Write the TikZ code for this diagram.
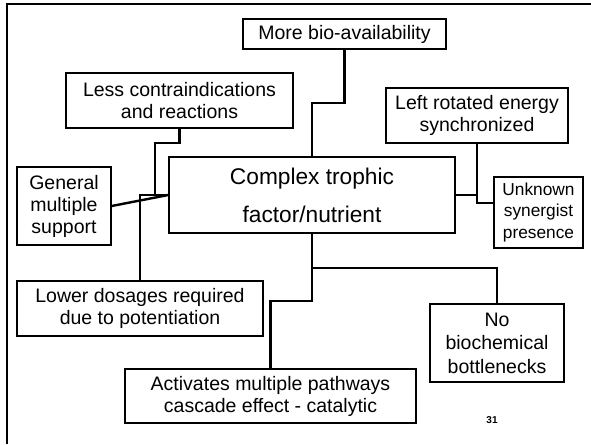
\documentclass[tikz,border=0pt]{standalone}
\usepackage{fontspec}
\setmainfont{Liberation Sans}
\usetikzlibrary{positioning}

\begin{document}
\begin{tikzpicture}[x=1pt, y=-1pt,
        box/.style={draw, line width=1.4pt, align=center, inner sep=0pt,
            font=\fontsize{19.5}{22}\selectfont},
        link/.style={line width=2.4pt},
    ]
            \useasboundingbox (0,0) rectangle (591,444);

            % slide frame
            \draw[line width=2.8pt] (7,444) -- (7,4) -- (591,4);

            % centre
            \node[box, minimum width=286pt, minimum height=76pt,
                font=\fontsize{22.7}{38}\selectfont] (core) at (312,195)
                {Complex trophic\\factor/nutrient};

            % boxes around it
            \node[box, minimum width=203pt, minimum height=30pt] (bio) at (344.5,34)
                {More bio-availability};
            \node[box, minimum width=227pt, minimum height=55pt] (contra) at (179.5,100.5)
                {Less contraindications\\and reactions};
            \node[box, minimum width=94pt, minimum height=78pt] (general) at (64,206)
                {General\\multiple\\support};
            \node[box, minimum width=182pt, minimum height=55pt] (energy) at (477,115.5)
                {Left rotated energy\\synchronized};
            \node[box, minimum width=89pt, minimum height=71pt,
                font=\fontsize{17.3}{21.5}\selectfont] (synergist) at (538.5,212.5)
                {Unknown\\synergist\\presence};
            \node[box, minimum width=246pt, minimum height=55pt] (dosage) at (140,308.5)
                {Lower dosages required\\due to potentiation};
            \node[box, minimum width=291pt, minimum height=54pt] (pathways) at (270.5,396)
                {Activates multiple pathways\\cascade effect - catalytic};
            \node[box, minimum width=134pt, minimum height=78pt,
                font=\fontsize{19.5}{23.5}\selectfont] (bottleneck) at (497,343)
                {No\\biochemical\\bottlenecks};

            % page number
            \node[font=\fontsize{10}{12}\selectfont\bfseries] (pagenum) at (492,420) {31};

            % bend points
            \coordinate (topbend) at (312,103);
            \coordinate (contrabend) at (155,143);
            \coordinate (contrajoin) at (155,195);
            \coordinate (lowbend) at (312,301);
            \coordinate (midtee) at (312,268);

            % connectors
            \draw[link] (bio.south) |- (topbend) -- (core.north);
            \draw[link] (contra.south) |- (contrabend) -- (contrajoin);
            \draw[link] (core.west) -| (dosage.north);
            \draw[link] (general.east) -- (core.west);
            \draw[link] (energy.south) |- (core.east);
            \draw[link] (energy.south |- core.east) |- ([yshift=9.5pt]synergist.west);
            \draw[link] (core.south) -- (lowbend) -| (pathways.north);
            \draw[link] (midtee) -| (bottleneck.north);
\end{tikzpicture}
\end{document}
